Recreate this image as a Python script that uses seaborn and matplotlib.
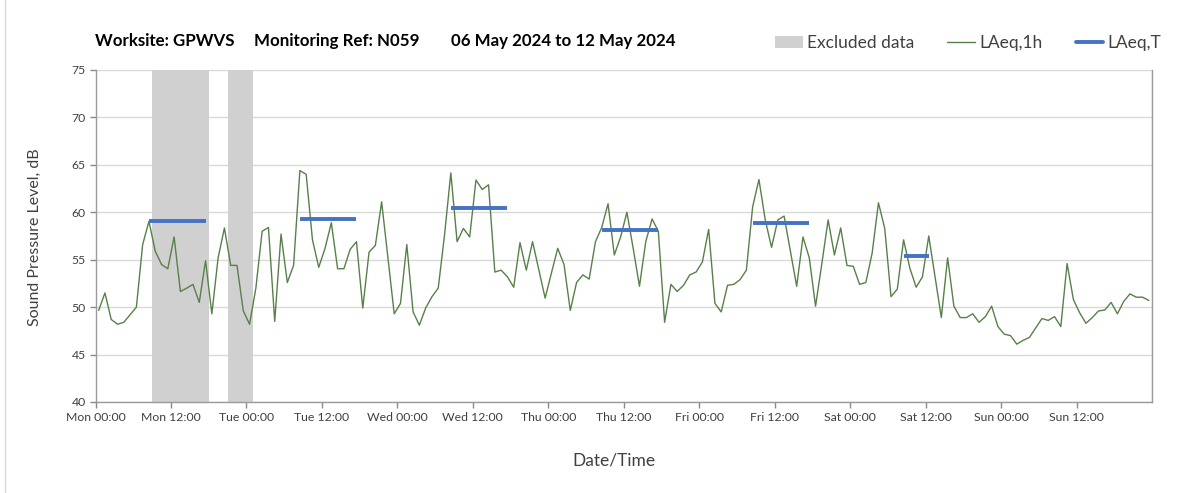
import matplotlib
matplotlib.use("Agg")
import numpy as np
import pandas as pd
import matplotlib.pyplot as plt
from matplotlib.lines import Line2D
from matplotlib.patches import Patch
import seaborn as sns

# hourly LAeq,1h from Mon 00:00 (one value per hour, 168 hours)
levels = [
    49.65, 51.5, 48.7, 48.2, 48.4, 49.2, 50.0, 56.6, 59.05, 55.9, 54.5, 54.05,
    57.4, 51.65, 52.0, 52.4, 50.5, 54.9, 49.3, 55.2, 58.35, 54.4,
    54.4, 49.6, 48.2, 52.0, 58.0, 58.4, 48.5, 57.7, 52.6, 54.4, 64.4, 64.0,
    57.1, 54.2, 56.2, 58.9, 54.05, 54.05, 56.1, 56.9,
    49.9, 55.8, 56.5, 61.1, 55.2, 49.3, 50.4, 56.6, 49.5, 48.1, 49.9, 51.1,
    52.0, 57.6, 64.15, 56.9, 58.3, 57.4, 63.4, 62.4, 62.9,
    53.7, 53.9, 53.2, 52.1, 56.8, 53.9, 56.9, 53.9, 50.95, 53.6, 56.2, 54.5,
    49.65, 52.6, 53.4, 52.96, 56.9, 58.4, 60.9, 55.5,
    57.4, 60.0, 56.2, 52.2, 56.9, 59.3, 58.0, 48.4, 52.4, 51.65, 52.3, 53.4,
    53.7, 54.75, 58.2, 50.4, 49.5, 52.3, 52.4, 52.9, 53.9,
    60.6, 63.45, 59.2, 56.3, 59.2, 59.6, 55.9, 52.2, 57.4, 55.2, 50.1, 54.6,
    59.2, 55.5, 58.35, 54.4, 54.3, 52.4, 52.6, 55.7, 61.0,
    58.3, 51.1, 51.9, 57.1, 54.1, 52.1, 53.2, 57.5, 53.2, 48.9, 55.2, 50.1,
    48.9, 48.9, 49.3, 48.4, 49.0, 50.1, 47.95, 47.15, 47.0,
    46.1, 46.5, 46.8, 47.8, 48.8, 48.6, 49.0, 47.95, 54.6, 50.8, 49.4, 48.3,
    48.9, 49.6, 49.7, 50.5, 49.3, 50.6, 51.4, 51.05, 51.05, 50.7,
]

# LAeq,T periods (hour of first and last hourly value)
laeq_t_start = [8, 32, 56, 80, 104, 128]
laeq_t_end = [17, 41, 65, 89, 113, 132]
laeq_t_value = [59.1, 59.3, 60.4, 58.1, 58.9, 55.4]

# excluded periods (hours from Mon 00:00)
excl_start = [9, 21]
excl_end = [18, 25]

day_names = ["Mon", "Tue", "Wed", "Thu", "Fri", "Sat", "Sun"]
tick_labels = [f"{d} {h}" for d in day_names for h in ["00:00", "12:00"]]

df = pd.DataFrame({"hour": np.arange(len(levels)) + 0.5, "level": levels})

GREEN = "#58804a"
BLUE = "#4472c4"
GREY = "#d0d0d0"
TXT = "#404040"

sns.set_theme(style="whitegrid")
plt.rcParams["font.family"] = ["Lato", "DejaVu Sans"]

fig = plt.figure(figsize=(12.03, 4.93), dpi=100)
ax = fig.add_axes([95.5 / 1203, 1 - 402 / 493, (1152 - 95.5) / 1203, 332 / 493])

for s, e in zip(excl_start, excl_end):
    ax.axvspan(s, e, color=GREY, lw=0, zorder=1)

sns.lineplot(data=df, x="hour", y="level", color=GREEN, lw=1.0, ax=ax, zorder=3)
for s, e, v in zip(laeq_t_start, laeq_t_end, laeq_t_value):
    ax.hlines(v, s + 0.5, e + 0.5, color=BLUE, lw=2.8, zorder=4)

ax.set_xlim(0, 168)
ax.set_ylim(40, 75)
ax.set_xticks(np.arange(0, 168, 12))
ax.set_xticklabels(tick_labels)
ax.set_xticks(np.arange(0, 169, 24), minor=True)
ax.set_yticks(np.arange(40, 76, 5))

ax.grid(False)
ax.grid(axis="y", which="major", color="#d9d9d9", lw=1)
ax.grid(axis="x", which="minor", color="#d9d9d9", lw=1)
ax.set_axisbelow(True)

ax.tick_params(axis="both", which="major", direction="out", length=4, width=1,
               color="#898989", labelsize=8.8, labelcolor=TXT, pad=3)
ax.tick_params(axis="x", which="minor", length=0)
ax.tick_params(left=True, bottom=True)
for side in ["left", "bottom", "right"]:
    ax.spines[side].set_color("#9a9a9a")
    ax.spines[side].set_linewidth(1)
ax.spines["top"].set_visible(False)
ax.set_facecolor("white")

ax.set_xlabel("")
ax.set_ylabel("")
fig.text(35 / 1203, 1 - 237 / 493, "Sound Pressure Level, dB", rotation=90,
         ha="center", va="center", fontsize=11.5, color=TXT)
fig.text(614 / 1203, 1 - 460 / 493, "Date/Time", ha="center", va="center",
         fontsize=12.5, color=TXT)

title_y = 1 - 41 / 493
fig.text(95 / 1203, title_y, "Worksite: GPWVS", ha="left", va="center",
         fontsize=12.2, fontweight="bold", color="black")
fig.text(254 / 1203, title_y, "Monitoring Ref: N059", ha="left", va="center",
         fontsize=12.2, fontweight="bold", color="black")
fig.text(451 / 1203, title_y, "06 May 2024 to 12 May 2024", ha="left", va="center",
         fontsize=12.2, fontweight="bold", color="black")

handles = [
    Patch(facecolor=GREY, edgecolor="none"),
    Line2D([], [], color=GREEN, lw=1.0),
    Line2D([], [], color=BLUE, lw=2.8),
]
fig.legend(handles, ["Excluded data", "LAeq,1h", "LAeq,T"], ncol=3,
           loc="center right", bbox_to_anchor=(1177 / 1203, 1 - 43 / 493),
           frameon=False, fontsize=12.5, handlelength=1.6, handletextpad=0.25,
           columnspacing=1.9, labelcolor=TXT)

# light frame around the chart area
fig.add_artist(Line2D([5 / 1203, 5 / 1203], [0, 1], transform=fig.transFigure,
                      color="#d9d9d9", lw=1))

fig.savefig("out.png", dpi=100, facecolor="white")
